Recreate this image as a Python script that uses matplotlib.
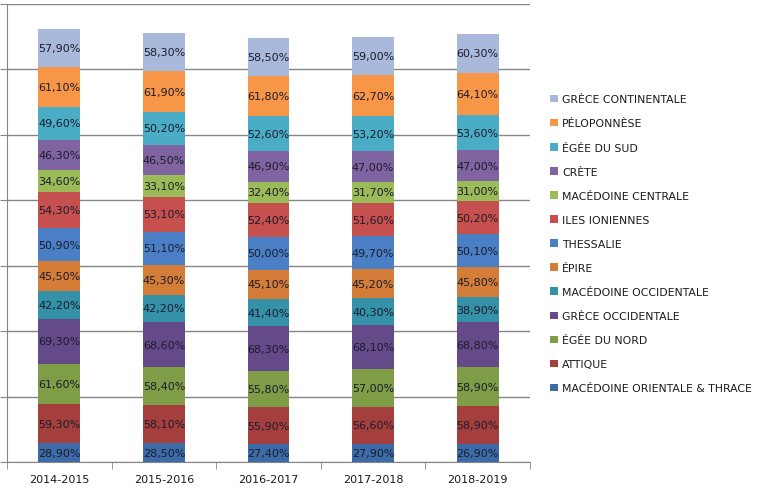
import matplotlib
matplotlib.use("Agg")
import matplotlib.pyplot as plt
from matplotlib.patches import Patch
import numpy as np

categories = ["2014-2015", "2015-2016", "2016-2017", "2017-2018", "2018-2019"]

series_names = [
    "MACÉDOINE ORIENTALE & THRACE",
    "ATTIQUE",
    "ÉGÉE DU NORD",
    "GRÈCE OCCIDENTALE",
    "MACÉDOINE OCCIDENTALE",
    "ÉPIRE",
    "THESSALIE",
    "ILES IONIENNES",
    "MACÉDOINE CENTRALE",
    "CRÈTE",
    "ÉGÉE DU SUD",
    "PÉLOPONNÈSE",
    "GRÈCE CONTINENTALE",
]

mac_orientale = [28.9, 28.5, 27.4, 27.9, 26.9]
attique = [59.3, 58.1, 55.9, 56.6, 58.9]
egee_nord = [61.6, 58.4, 55.8, 57.0, 58.9]
grece_occ = [69.3, 68.6, 68.3, 68.1, 68.8]
mac_occ = [42.2, 42.2, 41.4, 40.3, 38.9]
epire = [45.5, 45.3, 45.1, 45.2, 45.8]
thessalie = [50.9, 51.1, 50.0, 49.7, 50.1]
iles_ioniennes = [54.3, 53.1, 52.4, 51.6, 50.2]
mac_centrale = [34.6, 33.1, 32.4, 31.7, 31.0]
crete = [46.3, 46.5, 46.9, 47.0, 47.0]
egee_sud = [49.6, 50.2, 52.6, 53.2, 53.6]
peloponnese = [61.1, 61.9, 61.8, 62.7, 64.1]
grece_cont = [57.9, 58.3, 58.5, 59.0, 60.3]

series_values = [mac_orientale, attique, egee_nord, grece_occ, mac_occ, epire,
                 thessalie, iles_ioniennes, mac_centrale, crete, egee_sud,
                 peloponnese, grece_cont]

colors = ["#3D6BA8", "#A53F3D", "#7F9C47", "#654A8A", "#3591A8", "#D47D38",
          "#4A7FC5", "#C6504D", "#9BBB59", "#8064A2", "#4BACC6", "#F79646",
          "#A9B9DB"]

fig = plt.figure(figsize=(7.58, 4.89), dpi=100)
ax = fig.add_axes([7/758, 1-463/489, (530-7)/758, (463-5)/489])

x = np.arange(len(categories))
bottom = np.zeros(len(categories))
for name, vals, col in zip(series_names, series_values, colors):
    vals = np.array(vals)
    ax.bar(x, vals, 0.4, bottom=bottom, color=col, zorder=3)
    for xi, v, b in zip(x, vals, bottom):
        ax.text(xi, b + v/2, f"{v:.2f}%".replace(".", ","), ha="center",
                va="center", fontsize=8, color="#1c1c2c", zorder=4)
    bottom += vals

ax.set_xlim(-0.5, 4.5)
ax.set_ylim(0, 700)
ax.set_yticks(np.arange(0, 701, 100))
ax.set_yticklabels([])
ax.yaxis.grid(True, color="#868686", linewidth=1, zorder=0)
ax.set_xticks(x)
ax.set_xticklabels(categories, fontsize=8, color="#1a1a1a")
ax.set_xticks(np.arange(-0.5, 4.6, 1), minor=True)
ax.tick_params(axis="x", which="major", length=0, pad=9)
ax.tick_params(axis="x", which="minor", length=5, color="#868686")
ax.tick_params(axis="y", length=5, color="#868686")
for s in ["top", "right"]:
    ax.spines[s].set_visible(False)
for s in ["left", "bottom"]:
    ax.spines[s].set_color("#868686")

handles = [Patch(facecolor=c, edgecolor="none") for c in colors][::-1]
labels = series_names[::-1]
leg = fig.legend(handles, labels, loc="upper left",
                 bbox_to_anchor=(546/758, 1-91/489), frameon=False,
                 fontsize=7.8, handlelength=0.7, handleheight=0.7,
                 handletextpad=0.4, labelspacing=1.3, borderaxespad=0)
for t in leg.get_texts():
    t.set_color("#1a1a1a")

fig.savefig("out.png", dpi=100)
